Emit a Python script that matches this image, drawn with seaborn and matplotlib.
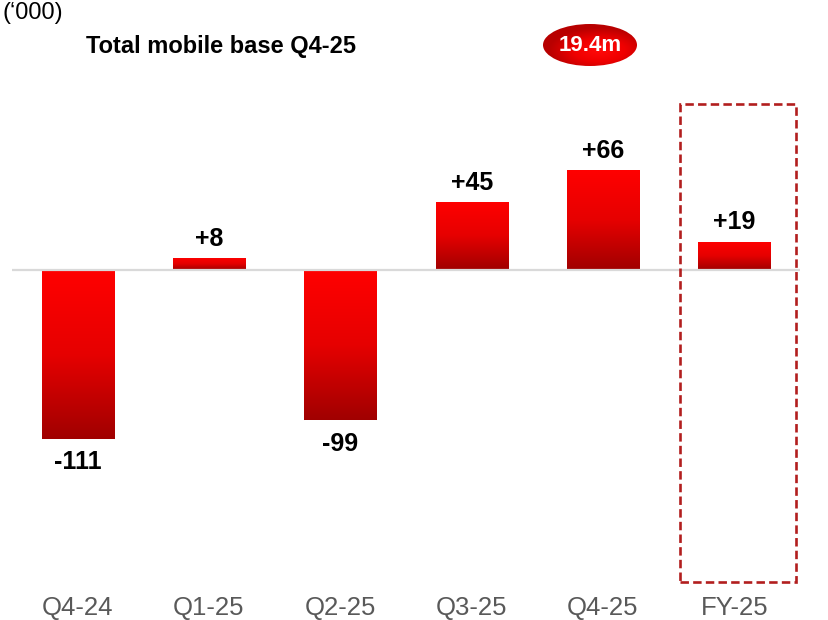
import matplotlib
matplotlib.use('Agg')
import matplotlib.pyplot as plt
import seaborn as sns
import numpy as np
import pandas as pd
from matplotlib.colors import LinearSegmentedColormap
from matplotlib.patches import Rectangle, Ellipse

# data
categories = ['Q4-24', 'Q1-25', 'Q2-25', 'Q3-25', 'Q4-25', 'FY-25']
net_adds = [-111, 8, -99, 45, 66, 19]
value_labels = ['-111', '+8', '-99', '+45', '+66', '+19']
unit_label = "(\u2018000)"
title_text = 'Total mobile base Q4-25'
badge_text = '19.4m'
highlight_cat = 'FY-25'

W, H = 829, 620
RED_DARK = '#A00000'
BOX_COLOR = '#B21E1E'
LABEL_GREY = '#595959'

sns.set_theme(style='white')
plt.rcParams['font.family'] = ['Liberation Sans', 'DejaVu Sans']
plt.rcParams['text.color'] = 'black'

fig = plt.figure(figsize=(W / 100, H / 100), dpi=100)
ax = fig.add_axes([12 / W, 30 / H, 788 / W, 510 / H])

df = pd.DataFrame({'period': categories, 'adds': net_adds})
sns.barplot(data=df, x='period', y='adds', order=categories, color='#E00000',
            width=0.55, saturation=1, ax=ax)

# vertical red gradient inside each bar
bar_cmap = LinearSegmentedColormap.from_list(
    'bar', [(0, '#FF0000'), (0.5, '#E60000'), (1, RED_DARK)])
grad = np.linspace(0, 1, 256).reshape(-1, 1)
for patch in list(ax.patches):
    x0, w = patch.get_x(), patch.get_width()
    y0, h = patch.get_y(), patch.get_height()
    lo, hi = min(y0, y0 + h), max(y0, y0 + h)
    im = ax.imshow(grad, cmap=bar_cmap, aspect='auto', origin='upper',
                   extent=(x0, x0 + w, lo, hi), zorder=patch.get_zorder() + 0.1)
    im.set_clip_path(patch)

ax.axhline(0, color='#D9D9D9', lw=1.6, zorder=5)

for i, (v, lab) in enumerate(zip(net_adds, value_labels)):
    if v >= 0:
        ax.annotate(lab, (i, v), xytext=(0, 9), textcoords='offset points',
                    ha='center', va='baseline', fontsize=18, fontweight='bold',
                    color='black')
    else:
        ax.annotate(lab, (i, v), xytext=(0, -8), textcoords='offset points',
                    ha='center', va='top', fontsize=18, fontweight='bold',
                    color='black')

# highlight box round the full-year bar
idx = categories.index(highlight_cat)
ax.add_patch(Rectangle((idx - 0.41, -205.6), 0.876, 315.5, fill=False,
                       ec=BOX_COLOR, lw=1.9, ls=(0, (3.2, 1.6)),
                       clip_on=False, zorder=6))

ax.set_xlim(-0.5, 5.5)
ax.set_ylim(-210.9, 125.7)
ax.set_xticks(range(len(categories)))
ax.set_xticklabels(categories)
ax.tick_params(axis='x', length=0, pad=4, labelsize=18.5, labelcolor=LABEL_GREY)
ax.set_yticks([])
ax.set_xlabel('')
ax.set_ylabel('')
sns.despine(ax=ax, left=True, bottom=True)

# header texts
fig.text(3 / W, 1 - 2 / H, unit_label, ha='left', va='top', fontsize=17,
         color='black')
fig.text(86 / W, 1 - 53 / H, title_text, ha='left', va='baseline',
         fontsize=17, fontweight='bold', color='black')

# red badge
bax = fig.add_axes([(590 - 47) / W, 1 - (45 + 21) / H, 94 / W, 42 / H])
bax.set_axis_off()
xx, yy = np.meshgrid(np.linspace(-1, 1, 200), np.linspace(-1, 1, 100))
r = np.sqrt((xx - 0.2) ** 2 + (yy - 0.25) ** 2)
r = np.clip(r / r.max() * 1.6, 0, 1)
badge_cmap = LinearSegmentedColormap.from_list('badge', ['#FF0A0A', '#F00000', '#B80000'])
bim = bax.imshow(r, cmap=badge_cmap, aspect='auto', extent=(0, 1, 0, 1), origin='upper')
bim.set_clip_path(Ellipse((0.5, 0.5), 1, 1, transform=bax.transAxes))
bax.set_xlim(0, 1)
bax.set_ylim(0, 1)
bax.text(0.5, 0.48, badge_text, color='white', ha='center', va='center',
         fontsize=16, fontweight='bold', transform=bax.transAxes)

fig.savefig('out.png', dpi=100)
